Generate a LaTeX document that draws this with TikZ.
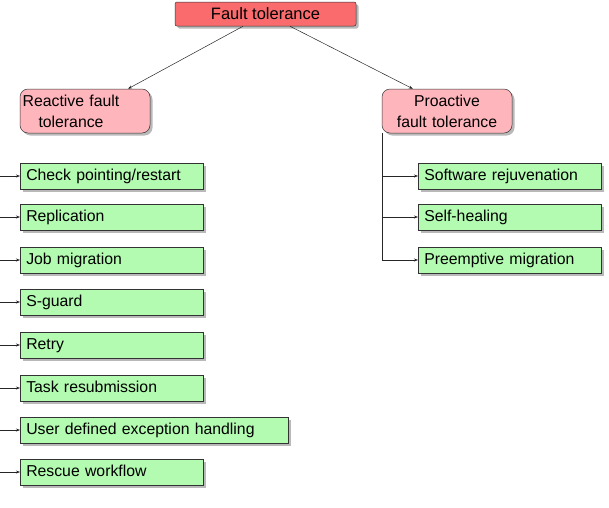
\documentclass[tikz,border=0pt]{standalone}
\usepackage{fontspec}
\setmainfont{Liberation Sans}
\usetikzlibrary{shadows,arrows.meta,calc}
\definecolor{ftred}{HTML}{F96B6D}
\definecolor{catpink}{HTML}{FFB5BC}
\definecolor{leafgreen}{HTML}{B2FBB0}
\tikzset{
  base/.style={draw=black!80, line width=0.5pt, inner sep=0pt, font=\fontsize{15.8}{21}\selectfont,
    drop shadow={shadow xshift=2.5pt, shadow yshift=-2.5pt, opacity=0.5, fill=black!55}},
  rootbox/.style={base, fill=ftred, rounded corners=2pt, minimum width=181pt, minimum height=24pt, font=\fontsize{16.5}{20}\selectfont},
  catbox/.style={base, fill=catpink, rounded corners=8pt, minimum width=130pt, minimum height=44pt, text width=130pt, align=center},
  leaf/.style={base, fill=leafgreen, minimum height=26pt, text width=#1, inner xsep=6pt, align=left, anchor=west,
    text height=11.5pt, text depth=3.5pt},
  conn/.style={line width=0.5pt, black!85, -{Stealth[length=4pt,width=3pt]}}
}
\begin{document}
\begin{tikzpicture}[x=1pt,y=-1pt]
\useasboundingbox (0,0) rectangle (609,507);
\node[rootbox] (ft) at (265.5,14) {Fault tolerance};
\node[catbox] (re) at (85,111) {\hspace*{-28pt}Reactive fault\\\hspace*{-28pt}tolerance};
\node[catbox] (pr) at (447,111) {Proactive\\fault tolerance};

\node[leaf=171pt] (l1) at (20,176) {Check pointing/restart};
\node[leaf=171pt] (l2) at (20,217) {Replication};
\node[leaf=171pt] (l3) at (20,260) {Job migration};
\node[leaf=171pt] (l4) at (20,302) {S-guard};
\node[leaf=171pt] (l5) at (20,345) {Retry};
\node[leaf=171pt] (l6) at (20,388) {Task resubmission};
\node[leaf=256pt] (l7) at (20,430) {User defined exception handling};
\node[leaf=171pt] (l8) at (20,472) {Rescue workflow};

\node[leaf=171pt] (r1) at (418,176) {Software rejuvenation};
\node[leaf=171pt] (r2) at (418,217) {Self-healing};
\node[leaf=171pt] (r3) at (418,260) {Preemptive migration};

\draw[conn] ($(ft.south west)!0.376!(ft.south east)$) -- ($(re.north west)!0.83!(re.north east)$);
\draw[conn] ($(ft.south west)!0.635!(ft.south east)$) -- ($(pr.north west)+(31,0)$);

\foreach \n in {l1,l2,l3,l4,l5,l6,l7,l8}{
  \coordinate (s\n) at (0,0 |- \n.west);
  \draw[conn] (s\n) -- (\n.west);
}
\coordinate (ptop) at (pr.south west);
\draw[line width=0.5pt, black!85] (ptop) -- (ptop |- r3.west);
\foreach \n in {r1,r2,r3}{
  \draw[conn] (ptop |- \n.west) -- (\n.west);
}
\end{tikzpicture}
\end{document}
